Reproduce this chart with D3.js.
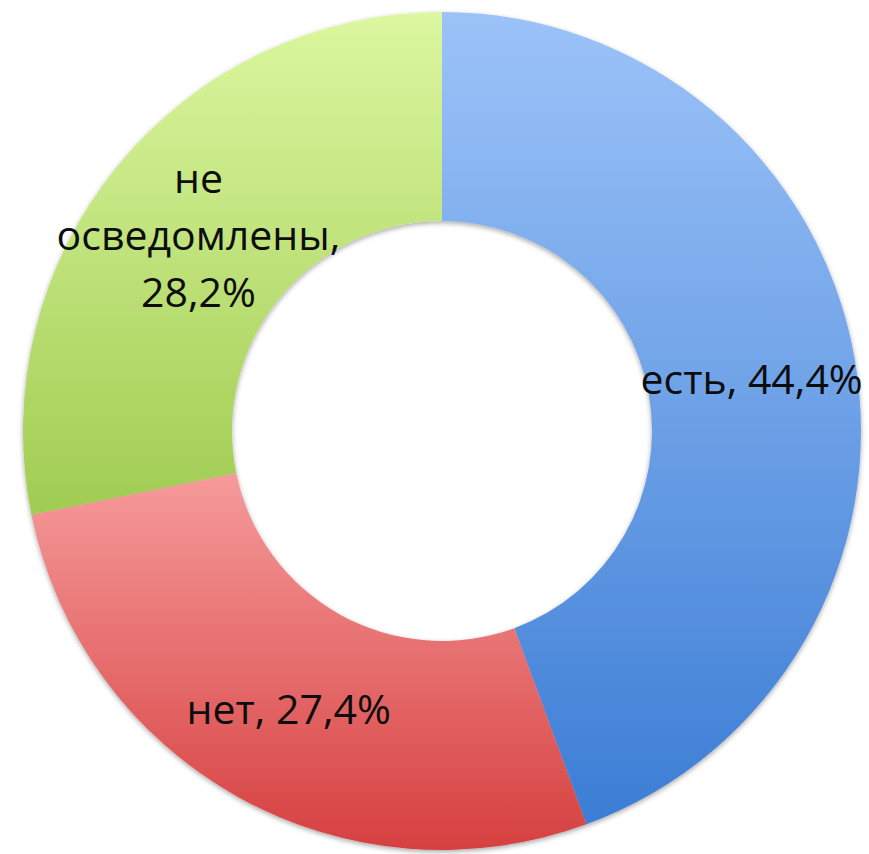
<!DOCTYPE html>
<html>
<head>
<meta charset="utf-8">
<script src="https://cdn.jsdelivr.net/npm/d3@7"></script>
<style>
  body { margin: 0; background: #fff; }
  svg { display: block; }
</style>
</head>
<body>
<div id="chart-area"></div>
<script>
// donut chart - answers share

var labels = [["есть, 44,4%"], ["нет, 27,4%"], ["не", "осведомлены,", "28,2%"]];
var values = [44.4, 27.4, 28.2];
var topColors = ["#9cc3f8", "#f69b9b", "#dcf7a0"];
var bottomColors = ["#3c7dd5", "#d64040", "#a0cc52"];

var width = 869, height = 854;
var cx = 442, cy = 431;
var outerR = 419, innerR = 210;

var svg = d3.select("#chart-area")
    .append("svg")
    .attr("width", width)
    .attr("height", height);

var defs = svg.append("defs");

var shadow = defs.append("filter")
    .attr("id", "shadow")
    .attr("x", "-10%").attr("y", "-10%")
    .attr("width", "120%").attr("height", "120%");
shadow.append("feDropShadow")
    .attr("dx", 0).attr("dy", 2)
    .attr("stdDeviation", 2.5)
    .attr("flood-color", "#000")
    .attr("flood-opacity", 0.35);

values.forEach(function(v, i) {
  var grad = defs.append("linearGradient")
      .attr("id", "grad" + i)
      .attr("x1", 0).attr("y1", 0)
      .attr("x2", 0).attr("y2", 1);
  grad.append("stop").attr("offset", "0%").attr("stop-color", topColors[i]);
  grad.append("stop").attr("offset", "100%").attr("stop-color", bottomColors[i]);
});

var pie = d3.pie()
    .sort(null)
    .value(function(d) { return d; });

var arc = d3.arc()
    .innerRadius(innerR)
    .outerRadius(outerR);

var arcs = pie(values);

var g = svg.append("g")
    .attr("transform", "translate(" + cx + "," + cy + ")");

g.append("g")
    .attr("filter", "url(#shadow)")
  .selectAll("path")
  .data(arcs)
  .enter().append("path")
    .attr("d", arc)
    .attr("fill", function(d, i) { return "url(#grad" + i + ")"; });

var lineH = 57;

var text = g.selectAll("text.label")
  .data(arcs)
  .enter().append("text")
    .attr("class", "label")
    .attr("transform", function(d) { return "translate(" + arc.centroid(d) + ")"; })
    .attr("text-anchor", "middle")
    .attr("font-family", "'Open Sans', sans-serif")
    .attr("font-size", 41)
    .attr("fill", "#0d0d0d");

text.each(function(d, i) {
  var lines = labels[i];
  var t = d3.select(this);
  var y0 = -(lines.length - 1) * lineH / 2 + 18;
  lines.forEach(function(l, j) {
    t.append("tspan")
      .attr("x", 0)
      .attr("y", y0 + j * lineH)
      .text(l);
  });
});
</script>
</body>
</html>
